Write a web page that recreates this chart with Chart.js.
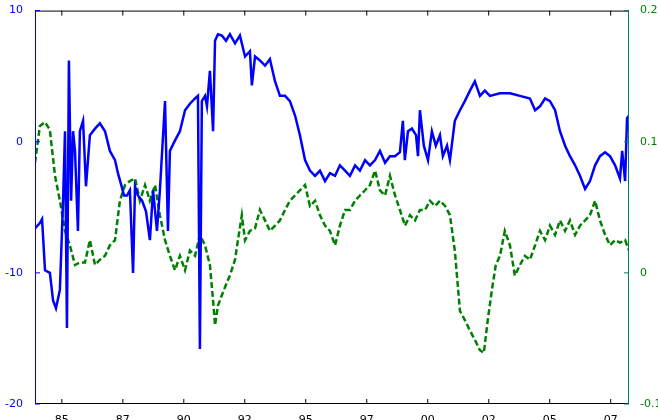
<!DOCTYPE html>
<html><head><meta charset="utf-8">
<script src="https://cdn.jsdelivr.net/npm/chart.js@4/dist/chart.umd.min.js"></script>
<style>html,body{margin:0;padding:0;background:#fff}#w{width:658px;height:420px}</style>
</head><body><div id="w"><canvas id="c"></canvas></div>
<script>
const blueYears=[1983.90,1984.10,1984.19,1984.31,1984.51,1984.64,1984.76,1984.92,1985.05,1985.13,1985.21,1985.29,1985.38,1985.46,1985.54,1985.66,1985.74,1985.87,1985.99,1986.15,1986.36,1986.56,1986.77,1986.97,1987.18,1987.30,1987.42,1987.55,1987.67,1987.79,1987.92,1988.00,1988.12,1988.29,1988.45,1988.61,1988.74,1988.90,1989.02,1989.23,1989.35,1989.43,1989.64,1989.84,1990.05,1990.25,1990.46,1990.58,1990.66,1990.74,1990.87,1990.95,1991.07,1991.20,1991.28,1991.40,1991.56,1991.73,1991.89,1992.10,1992.30,1992.51,1992.71,1992.79,1992.92,1993.12,1993.33,1993.53,1993.74,1993.94,1994.15,1994.35,1994.56,1994.76,1994.97,1995.17,1995.38,1995.58,1995.79,1995.99,1996.20,1996.40,1996.61,1996.81,1997.02,1997.22,1997.43,1997.63,1997.84,1998.04,1998.25,1998.45,1998.66,1998.86,1998.98,1999.06,1999.19,1999.35,1999.52,1999.60,1999.68,1999.84,2000.01,2000.17,2000.33,2000.50,2000.62,2000.79,2000.91,2001.11,2001.32,2001.52,2001.73,2001.93,2002.14,2002.34,2002.55,2002.96,2003.37,2003.78,2004.19,2004.40,2004.60,2004.81,2005.01,2005.22,2005.42,2005.63,2005.83,2006.04,2006.24,2006.45,2006.65,2006.86,2007.06,2007.27,2007.47,2007.68,2007.88,2007.97,2008.09,2008.17,2008.25];
const blueValues=[-6.6,-6.2,-5.9,-9.8,-10,-12.1,-12.7,-11.3,-4.5,0.8,-14.2,6.2,-4.5,0.8,-0.7,-6.8,0.8,1.6,-3.4,0.5,1,1.4,0.8,-0.7,-1.4,-2.4,-3.2,-4.1,-4.1,-3.7,-10,-3.4,-4.1,-4.5,-5.3,-7.5,-3.7,-6.8,-3.7,3.1,-6.8,-0.7,0.1,0.8,2.4,2.9,3.3,3.5,-15.8,3.1,3.5,2.7,5.4,0.8,7.7,8.2,8.1,7.7,8.2,7.5,8.1,6.5,6.9,4.3,6.5,6.2,5.8,6.3,4.6,3.5,3.5,3.1,2,0.5,-1.4,-2.2,-2.6,-2.2,-3,-2.4,-2.6,-1.8,-2.2,-2.6,-1.8,-2.2,-1.4,-1.8,-1.4,-0.7,-1.6,-1.1,-1.1,-0.8,1.6,-1.4,0.8,1,0.5,-1.1,2.4,-0.3,-1.4,0.8,-0.3,0.5,-1.1,-0.3,-1.4,1.6,2.4,3.1,3.9,4.6,3.5,3.9,3.5,3.7,3.7,3.5,3.3,2.4,2.7,3.3,3.1,2.4,0.8,-0.3,-1.1,-1.8,-2.6,-3.6,-3,-1.8,-1.1,-0.8,-1.1,-1.8,-2.8,-0.7,-3,1.8,2];
const greenYears=[1983.90,1984.10,1984.31,1984.51,1984.72,1984.92,1985.13,1985.33,1985.54,1985.74,1985.95,1986.15,1986.36,1986.56,1986.77,1986.97,1987.18,1987.38,1987.59,1987.79,1988.00,1988.20,1988.41,1988.61,1988.82,1989.02,1989.23,1989.43,1989.64,1989.84,1990.05,1990.25,1990.46,1990.66,1990.87,1991.07,1991.20,1991.28,1991.40,1991.56,1991.73,1991.89,1992.10,1992.22,1992.38,1992.51,1992.71,1992.92,1993.12,1993.33,1993.53,1993.74,1993.94,1994.15,1994.35,1994.56,1994.76,1994.97,1995.17,1995.38,1995.58,1995.79,1995.99,1996.20,1996.40,1996.61,1996.81,1997.02,1997.22,1997.43,1997.63,1997.84,1998.04,1998.25,1998.45,1998.66,1998.86,1999.07,1999.27,1999.48,1999.68,1999.89,2000.09,2000.30,2000.50,2000.71,2000.91,2001.11,2001.32,2001.52,2001.73,2001.93,2002.14,2002.30,2002.46,2002.63,2002.79,2002.96,2003.16,2003.37,2003.57,2003.78,2003.98,2004.19,2004.40,2004.60,2004.81,2005.01,2005.22,2005.42,2005.63,2005.83,2006.04,2006.24,2006.45,2006.65,2006.86,2007.06,2007.27,2007.47,2007.68,2007.88,2008.09,2008.25];
const greenValues=[0.084,0.112,0.115,0.109,0.074,0.055,0.032,0.021,0.006,0.008,0.008,0.025,0.006,0.01,0.013,0.021,0.025,0.055,0.067,0.07,0.072,0.055,0.067,0.055,0.067,0.044,0.025,0.013,0.002,0.013,0.002,0.017,0.013,0.029,0.021,0.006,-0.021,-0.04,-0.025,-0.017,-0.009,-0.002,0.01,0.025,0.044,0.025,0.032,0.034,0.048,0.04,0.032,0.036,0.04,0.048,0.055,0.059,0.063,0.067,0.051,0.055,0.044,0.036,0.032,0.021,0.036,0.048,0.048,0.055,0.059,0.063,0.067,0.078,0.063,0.059,0.074,0.059,0.048,0.036,0.044,0.04,0.048,0.048,0.055,0.051,0.055,0.051,0.044,0.017,-0.029,-0.036,-0.044,-0.051,-0.059,-0.061,-0.036,-0.013,0.006,0.013,0.032,0.021,-0.002,0.006,0.013,0.01,0.021,0.032,0.025,0.036,0.029,0.04,0.032,0.04,0.029,0.036,0.04,0.044,0.055,0.04,0.029,0.021,0.025,0.023,0.025,0.017];
const xTicks=[1985,1987.5,1990,1992.5,1995,1997.5,2000,2002.5,2005,2007.5];
const xTickLabels=['85','87','90','92','95','97','00','02','05','07'];
const leftTicks=[-20,-10,0,10];
const rightTicks=[-0.1,0,0.1,0.2];

const BLUE='#0000ff', GREEN='#008000', RAXIS='#007a6a';
const frame={id:'frame',afterDraw(ch){const a=ch.chartArea,c=ch.ctx;c.save();c.lineWidth=1;
 c.strokeStyle='#000';c.beginPath();c.moveTo(a.left,a.top+.5);c.lineTo(a.right,a.top+.5);c.moveTo(a.left,a.bottom-.5);c.lineTo(a.right,a.bottom-.5);c.stroke();
 // x ticks inward
 xTicks.forEach(t=>{const x=ch.scales.x.getPixelForValue(t);c.beginPath();c.moveTo(x,a.bottom);c.lineTo(x,a.bottom-5);c.moveTo(x,a.top);c.lineTo(x,a.top+5);c.stroke();});
 c.strokeStyle=BLUE;c.beginPath();c.moveTo(a.left+.5,a.top);c.lineTo(a.left+.5,a.bottom);leftTicks.forEach(t=>{const y=ch.scales.y.getPixelForValue(t);c.moveTo(a.left,y);c.lineTo(a.left+5,y);});c.stroke();
 c.strokeStyle=RAXIS;c.beginPath();c.moveTo(a.right-.5,a.top);c.lineTo(a.right-.5,a.bottom);rightTicks.forEach(t=>{const y=ch.scales.y2.getPixelForValue(t);c.moveTo(a.right,y);c.lineTo(a.right-5,y);});c.stroke();
 c.restore();}};
new Chart(document.getElementById('c'),{type:'line',
 data:{datasets:[
  {data:blueYears.map((x,i)=>({x,y:blueValues[i]})),borderColor:BLUE,borderWidth:2.5,pointRadius:0,yAxisID:'y',tension:0},
  {data:greenYears.map((x,i)=>({x,y:greenValues[i]})),borderColor:GREEN,borderWidth:2.5,borderDash:[6,3],pointRadius:0,yAxisID:'y2',tension:0}]},
 options:{responsive:true,maintainAspectRatio:false,animation:false,
  layout:{padding:{top:4,right:0,bottom:0,left:0}},
  plugins:{legend:{display:false},tooltip:{enabled:false}},
  scales:{
   x:{type:'linear',min:1983.9,max:2008.25,grid:{display:false},border:{display:false},
     afterBuildTicks:s=>{s.ticks=xTicks.map(v=>({value:v}));},
     afterFit:s=>{s.height=16;},
     ticks:{autoSkip:false,maxRotation:0,padding:2,color:'#000',font:{family:'DejaVu Sans',size:11},callback:v=>xTickLabels[xTicks.indexOf(v)]}},
   y:{position:'left',min:-20,max:10,grid:{display:false},border:{display:false},
     afterBuildTicks:s=>{s.ticks=leftTicks.map(v=>({value:v}));},
     afterFit:s=>{s.width=35;},
     ticks:{padding:4,color:BLUE,font:{family:'DejaVu Sans',size:11}}},
   y2:{position:'right',min:-0.1,max:0.2,grid:{display:false},border:{display:false},
     afterBuildTicks:s=>{s.ticks=rightTicks.map(v=>({value:v}));},
     afterFit:s=>{s.width=29;},
     ticks:{padding:3,color:GREEN,font:{family:'DejaVu Sans',size:11},callback:v=>String(Math.round(v*10)/10)}}}},
 plugins:[frame]});
</script></body></html>
